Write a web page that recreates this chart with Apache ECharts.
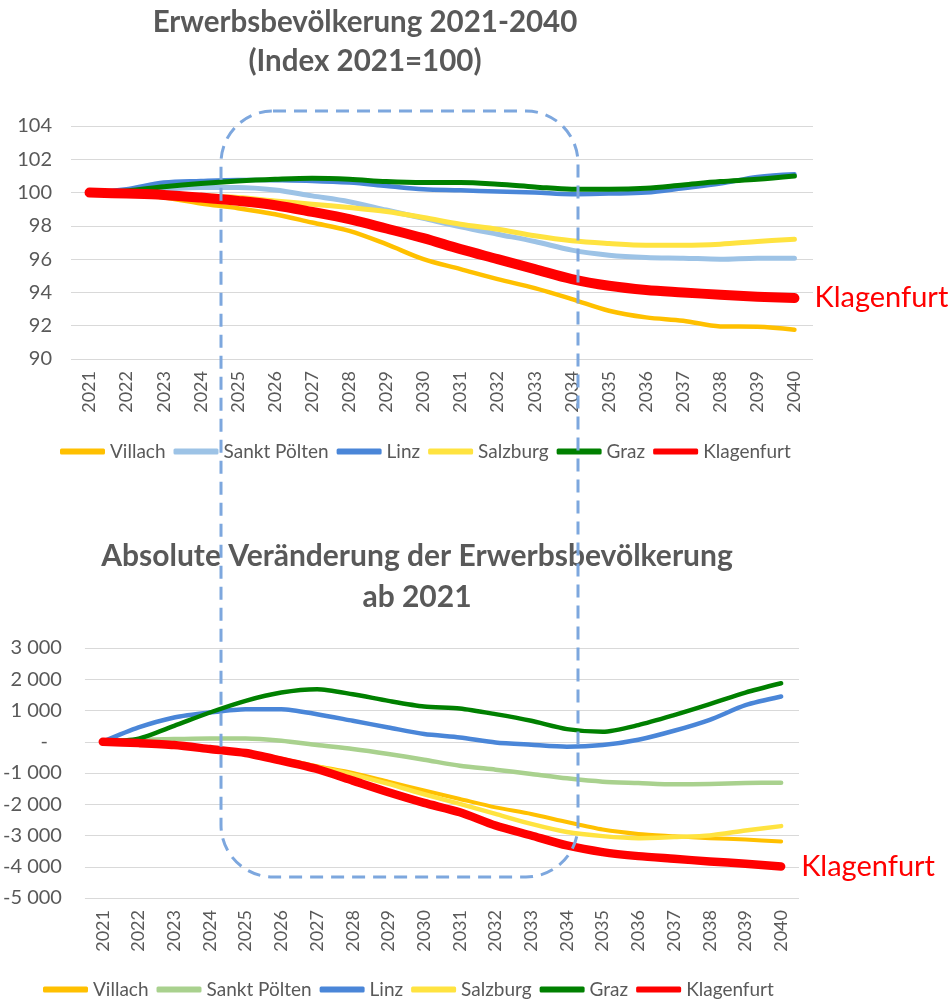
<!DOCTYPE html>
<html>
<head>
<meta charset="utf-8">
<script src="https://cdn.jsdelivr.net/npm/echarts@6/dist/echarts.min.js"></script>
<style>
  html, body { margin: 0; padding: 0; background: #fff; }
  #chart { width: 952px; height: 1000px; }
</style>
</head>
<body>
<div id="chart"></div>
<script>
const years = ['2021', '2022', '2023', '2024', '2025', '2026', '2027', '2028', '2029', '2030',
  '2031', '2032', '2033', '2034', '2035', '2036', '2037', '2038', '2039', '2040']

// Index 2021=100
const idxVillach = [100, 99.86, 99.7, 99.34, 99.06, 98.7, 98.2, 97.7, 96.9, 96.0, 95.4, 94.8, 94.26, 93.6, 92.9, 92.5, 92.3, 91.96, 91.94, 91.76]
const idxSanktPoelten = [100, 100.1, 100.2, 100.3, 100.3, 100.15, 99.8, 99.45, 98.95, 98.45, 97.95, 97.5, 97.06, 96.54, 96.24, 96.1, 96.06, 96.0, 96.06, 96.06]
const idxLinz = [100, 100.2, 100.6, 100.7, 100.76, 100.74, 100.7, 100.6, 100.4, 100.2, 100.14, 100.06, 100.0, 99.9, 99.94, 100.0, 100.26, 100.54, 100.94, 101.1]
const idxSalzburg = [100, 99.94, 99.86, 99.8, 99.7, 99.5, 99.3, 99.1, 98.86, 98.5, 98.1, 97.8, 97.4, 97.1, 96.94, 96.84, 96.84, 96.9, 97.06, 97.2]
const idxGraz = [100, 100.1, 100.35, 100.55, 100.7, 100.8, 100.86, 100.8, 100.66, 100.6, 100.6, 100.5, 100.34, 100.2, 100.2, 100.26, 100.46, 100.66, 100.8, 101.0]
const idxKlagenfurt = [100, 99.94, 99.86, 99.7, 99.5, 99.24, 98.84, 98.4, 97.84, 97.26, 96.6, 96.0, 95.4, 94.8, 94.4, 94.15, 94.0, 93.86, 93.74, 93.66]

// absolute Veränderung ab 2021
const absVillach = [0, -40, -110, -220, -330, -540, -780, -1000, -1280, -1560, -1830, -2100, -2310, -2570, -2810, -2950, -3020, -3085, -3130, -3190]
const absSanktPoelten = [0, 64, 85, 106, 106, 32, -106, -234, -394, -574, -766, -894, -1032, -1170, -1277, -1319, -1362, -1351, -1319, -1309]
const absLinz = [0, 457, 777, 936, 1043, 1043, 883, 670, 457, 245, 138, -21, -96, -160, -106, 64, 351, 702, 1170, 1447]
const absSalzburg = [0, -40, -110, -220, -340, -560, -800, -1050, -1350, -1680, -1990, -2310, -2630, -2890, -3020, -3085, -3050, -3000, -2840, -2700]
const absGraz = [0, 100, 510, 936, 1309, 1574, 1680, 1521, 1309, 1128, 1064, 883, 670, 404, 319, 532, 851, 1202, 1574, 1872]
const absKlagenfurt = [0, -43, -106, -234, -362, -606, -872, -1245, -1617, -1957, -2255, -2681, -3000, -3319, -3532, -3660, -3745, -3830, -3904, -3989]

const cities = ['Villach', 'Sankt Pölten', 'Linz', 'Salzburg', 'Graz', 'Klagenfurt']
const colorsTop = ['#FFC000', '#9DC3E6', '#4A86D8', '#FFE340', '#008000', '#FF0000']
const colorsBottom = ['#FFC000', '#A9D18E', '#4A86D8', '#FFE340', '#008000', '#FF0000']
const widthsTop = [4.5, 5, 4.5, 5, 5, 10]
const widthsBottom = [4, 4.5, 4.5, 4.5, 4.5, 8.5]

const FONT = 'Lato, "Open Sans", sans-serif'
const GREY = '#595959'

function fmtAbs(v) {
  if (v === 0) return '{z|-}'
  const s = Math.abs(v).toString().replace(/\B(?=(\d{3})+(?!\d))/g, ' ')
  return (v < 0 ? '-' : '') + s
}

function makeSeries(name, data, color, width, idx) {
  const s = {
    name: name,
    type: 'line',
    xAxisIndex: idx,
    yAxisIndex: idx,
    data: data,
    symbol: 'none',
    smooth: idx === 0 ? 0.35 : 0.25,
    color: color,
    lineStyle: { width: width, color: color, cap: 'round', join: 'round' },
    emphasis: { disabled: true },
  }
  if (name === 'Klagenfurt') {
    s.endLabel = {
      show: true,
      formatter: 'Klagenfurt',
      color: '#FF0000',
      fontSize: 29,
      fontFamily: FONT,
      distance: 20,
    }
  }
  return s
}

const topData = [idxVillach, idxSanktPoelten, idxLinz, idxSalzburg, idxGraz, idxKlagenfurt]
const bottomData = [absVillach, absSanktPoelten, absLinz, absSalzburg, absGraz, absKlagenfurt]

const series = []
cities.forEach((c, i) => series.push(makeSeries(c, topData[i], colorsTop[i], widthsTop[i], 0)))
cities.forEach((c, i) => series.push(makeSeries(c, bottomData[i], colorsBottom[i], widthsBottom[i], 1)))

function legendOpt(left, top, colors) {
  return {
    left: left,
    top: top,
    icon: 'roundRect',
    itemWidth: 45,
    itemHeight: 6,
    itemGap: 8,
    selectedMode: false,
    textStyle: { color: GREY, fontSize: 19, fontFamily: FONT },
    data: cities.map((c, i) => ({ name: c, itemStyle: { color: colors[i] } })),
  }
}

function xAxisOpt(gridIndex, margin) {
  return {
    type: 'category',
    gridIndex: gridIndex,
    data: years,
    boundaryGap: true,
    axisLine: { show: false },
    axisTick: { show: false },
    axisLabel: { rotate: 90, margin: margin, color: GREY, fontSize: 18, fontFamily: FONT },
  }
}

const option = {
  animation: false,
  grid: [
    { left: 71, right: 139, top: 126, bottom: 641 },
    { left: 84, right: 153, top: 648, bottom: 102 },
  ],
  xAxis: [xAxisOpt(0, 12), xAxisOpt(1, 12)],
  yAxis: [
    {
      type: 'value', gridIndex: 0, min: 90, max: 104, interval: 2,
      axisLine: { show: false }, axisTick: { show: false },
      axisLabel: { color: GREY, fontSize: 20, fontFamily: FONT, margin: 19 },
      splitLine: { lineStyle: { color: '#D9D9D9', width: 1 } },
    },
    {
      type: 'value', gridIndex: 1, min: -5000, max: 3000, interval: 1000,
      axisLine: { show: false }, axisTick: { show: false },
      axisLabel: {
        color: GREY, fontSize: 20, fontFamily: FONT, margin: 23,
        formatter: fmtAbs,
        rich: { z: { color: GREY, fontSize: 20, fontFamily: FONT, padding: [0, 14, 0, 0] } },
      },
      splitLine: { lineStyle: { color: '#D9D9D9', width: 1 } },
    },
  ],
  legend: [legendOpt(55, 437, colorsTop), legendOpt(38, 975, colorsBottom)],
  graphic: [
    { type: 'text', x: 365, y: 22, silent: true,
      style: { text: 'Erwerbsbevölkerung 2021-2040', font: 'bold 29.5px ' + FONT, fill: GREY, textAlign: 'center', textVerticalAlign: 'middle' } },
    { type: 'text', x: 365, y: 61, silent: true,
      style: { text: '(Index 2021=100)', font: 'bold 29.5px ' + FONT, fill: GREY, textAlign: 'center', textVerticalAlign: 'middle' } },
    { type: 'text', x: 417, y: 556, silent: true,
      style: { text: 'Absolute Veränderung der Erwerbsbevölkerung', font: 'bold 30px ' + FONT, fill: GREY, textAlign: 'center', textVerticalAlign: 'middle' } },
    { type: 'text', x: 417, y: 597, silent: true,
      style: { text: 'ab 2021', font: 'bold 30px ' + FONT, fill: GREY, textAlign: 'center', textVerticalAlign: 'middle' } },
    // gestrichelter Rahmen 2025-2034
    { type: 'rect', silent: true, z: 100,
      shape: { x: 221, y: 111, width: 357, height: 766, r: 52 },
      style: { fill: 'none', stroke: '#7DA7DE', lineWidth: 3, lineDash: [13, 8] } },
  ],
  series: series,
}

const myChart = echarts.init(document.getElementById('chart'))
myChart.setOption(option)
</script>
</body>
</html>
